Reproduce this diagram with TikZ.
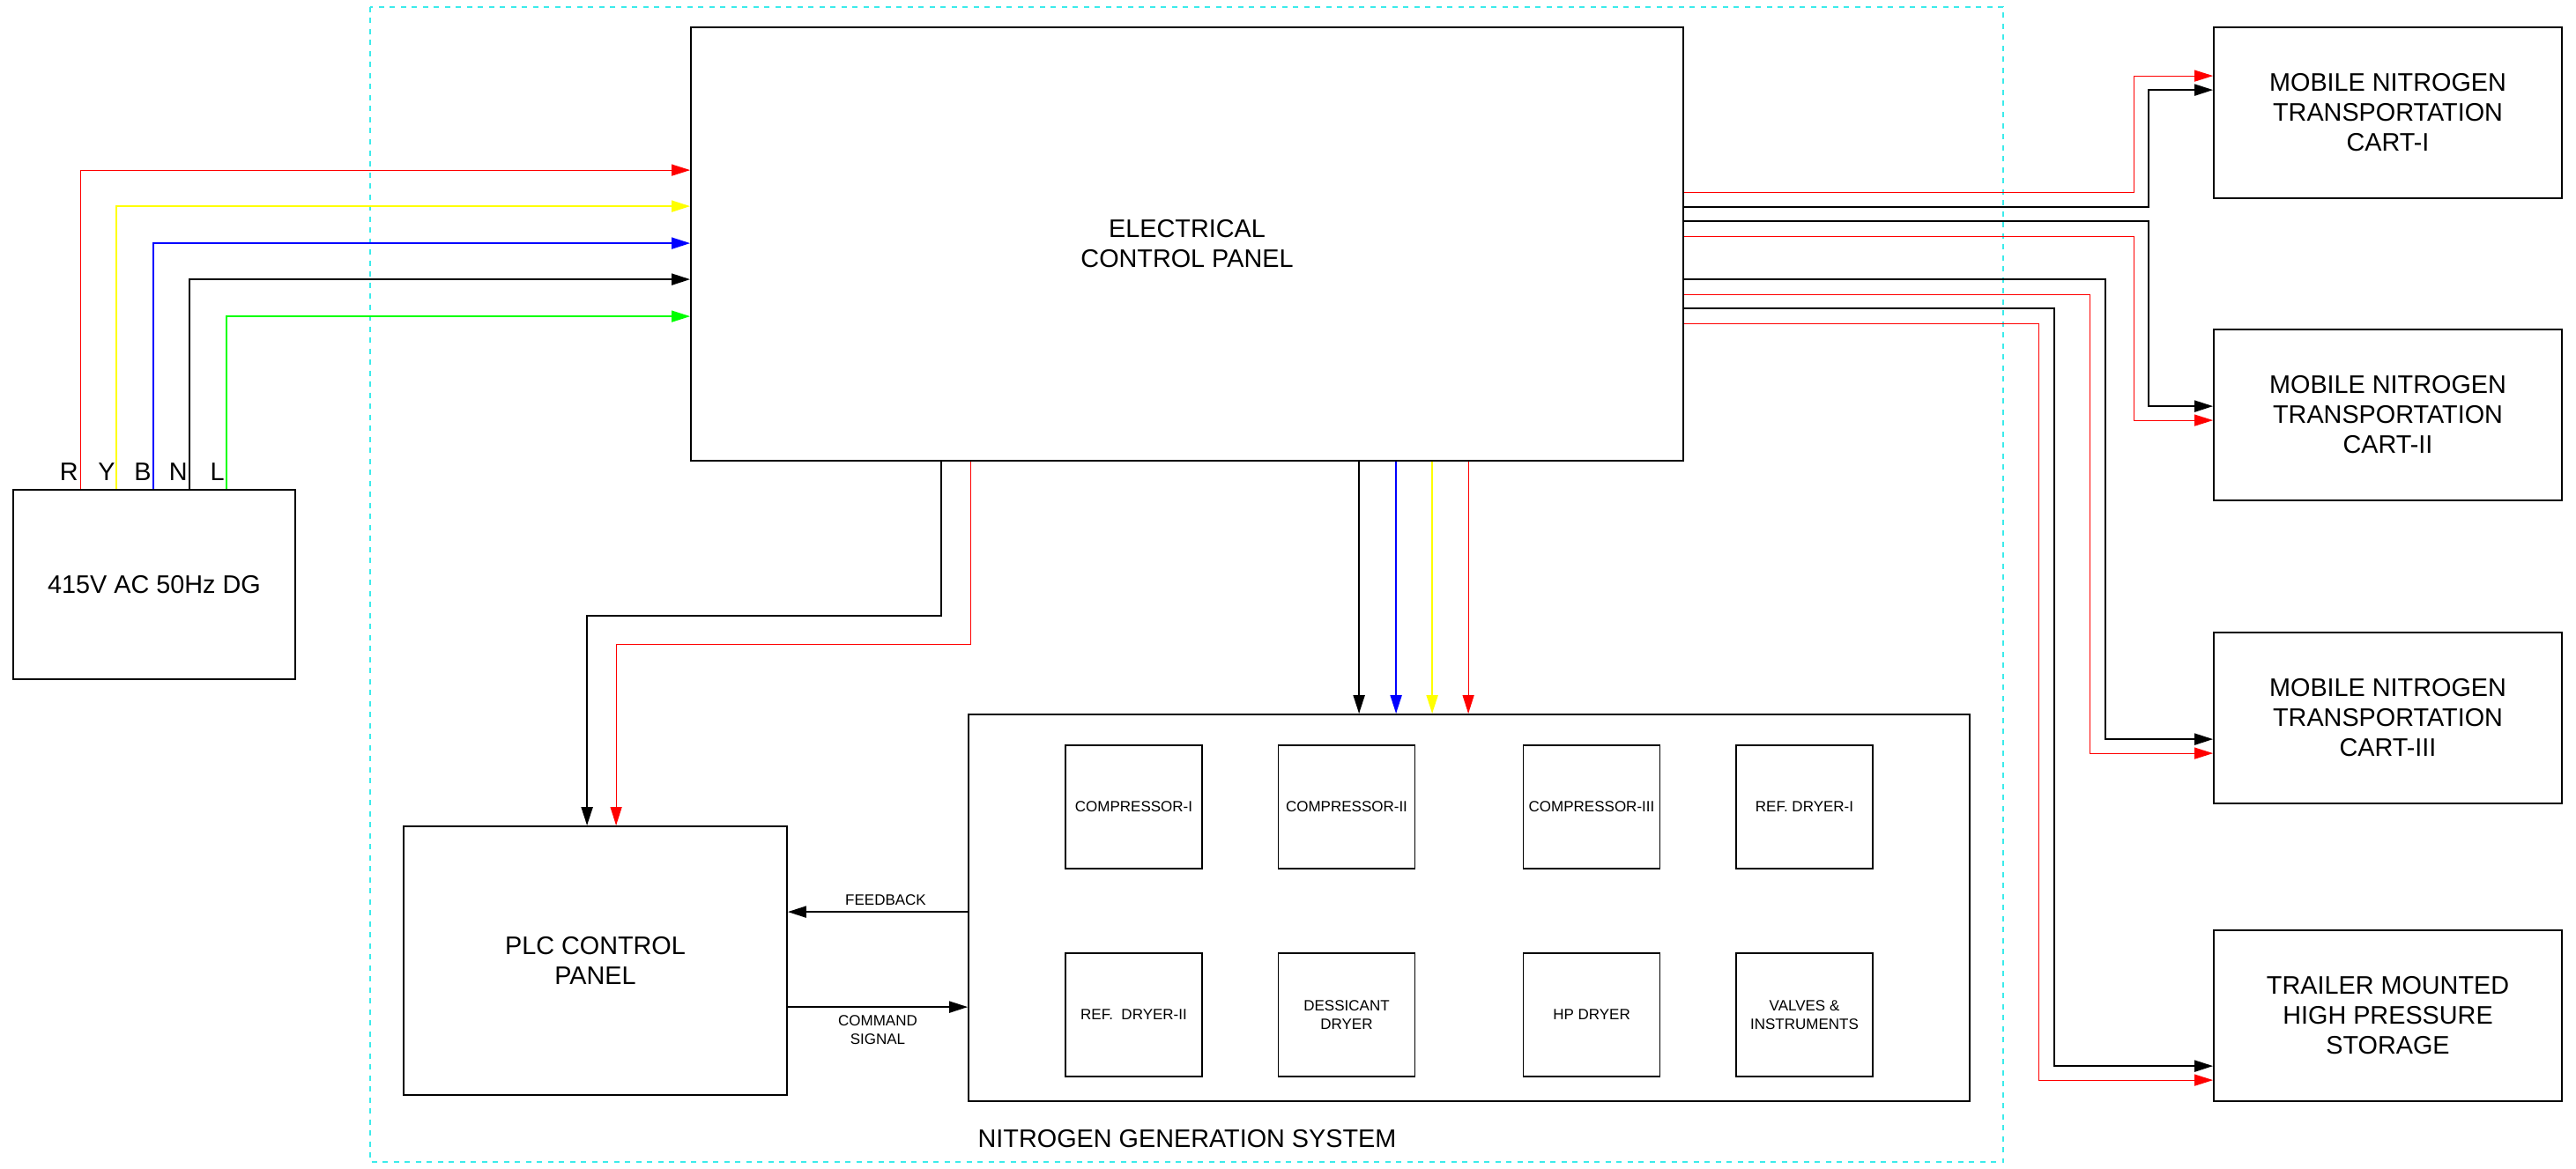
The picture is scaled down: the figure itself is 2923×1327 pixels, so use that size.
\documentclass[tikz,border=0pt]{standalone}
\usepackage{fontspec}
\setmainfont{Liberation Sans}
\usetikzlibrary{arrows.meta,calc}
\definecolor{wred}{RGB}{255,0,0}
\definecolor{wyel}{RGB}{255,255,0}
\definecolor{wblue}{RGB}{0,0,255}
\definecolor{wgreen}{RGB}{0,255,0}
\definecolor{framecyan}{RGB}{60,235,235}
\newcommand\fbig{\fontsize{14.4}{17}\selectfont}
\newcommand\fsmall{\fontsize{8.5}{10.5}\selectfont}
\begin{document}
\frenchspacing
\begin{tikzpicture}[x=0.5pt,y=-0.5pt,
  box/.style={draw=black,line width=0.9pt,inner sep=0pt,align=center,font=\fbig},
  cart/.style={box,minimum width=197.5pt,minimum height=97pt},
  sub/.style={draw=black,line width=0.9pt,inner sep=0pt,align=center,font=\fsmall,minimum width=77.5pt,minimum height=70pt},
  lbl/.style={inner sep=0pt,font=\fbig},
  slbl/.style={inner sep=0pt,font=\fsmall,align=center},
  arr/.style={-{Triangle[length=10.5pt,width=6.5pt]}},
  wk/.style={draw=black,line width=0.95pt,arr},
  wr/.style={draw=wred,line width=0.55pt,arr},
  wy/.style={draw=wyel,line width=0.9pt,arr},
  wb/.style={draw=wblue,line width=0.9pt,arr},
  wg/.style={draw=wgreen,line width=0.65pt,arr},
  frame/.style={draw=framecyan,line width=0.7pt,dash pattern=on 3pt off 3.25pt}
]
\useasboundingbox[fill=white] (0,0) rectangle (2923,1327);

% frame of the nitrogen generation system
\draw[frame] (420,8) rectangle (2273,1319);
\node[lbl] (ngslbl) at (1347,1293) {NITROGEN GENERATION SYSTEM};

% main boxes
\node[box,minimum width=160pt,minimum height=107.5pt] (dg) at (175,663.5) {415V AC 50Hz DG};
\node[box,minimum width=563pt,minimum height=246pt] (ecp) at (1347,277) {ELECTRICAL\\CONTROL PANEL};
\node[box,minimum width=217.5pt,minimum height=152.5pt] (plc) at (675.5,1090.5) {PLC CONTROL\\PANEL};
\node[box,minimum width=568pt,minimum height=219.5pt] (ngs) at (1667,1030.5) {};

\node[cart] (c1) at (2709.5,128) {MOBILE NITROGEN\\TRANSPORTATION\\CART-I};
\node[cart] (c2) at (2709.5,471) {MOBILE NITROGEN\\TRANSPORTATION\\CART-II};
\node[cart] (c3) at (2709.5,815) {MOBILE NITROGEN\\TRANSPORTATION\\CART-III};
\node[cart] (st) at (2709.5,1153) {TRAILER MOUNTED\\HIGH PRESSURE\\STORAGE};

% sub units
\node[sub] (comp1) at (1286.5,916) {COMPRESSOR-I};
\node[sub] (comp2) at (1528,916) {COMPRESSOR-II};
\node[sub] (comp3) at (1806,916) {COMPRESSOR-III};
\node[sub] (rd1) at (2047.5,916) {REF. DRYER-I};
\node[sub] (rd2) at (1286.5,1152) {REF.\ \ DRYER-II};
\node[sub] (dd) at (1528,1152) {DESSICANT\\DRYER};
\node[sub] (hp) at (1806,1152) {HP DRYER};
\node[sub] (vi) at (2047.5,1152) {VALVES \&\\INSTRUMENTS};

% phase labels
\node[lbl,anchor=base east] (lR) at (89,545) {R};
\node[lbl,anchor=base east] (lY) at (131,545) {Y};
\node[lbl,anchor=base east] (lB) at (172,545) {B};
\node[lbl,anchor=base east] (lN) at (213,545) {N};
\node[lbl,anchor=base east] (lL) at (255,545) {L};

% DG to ECP
\draw[wr] ($(dg.north west)+(77,0)$) |- ($(ecp.north west)+(0,163)$);
\draw[wy] ($(dg.north west)+(118,0)$) |- ($(ecp.north west)+(0,204)$);
\draw[wb] ($(dg.north west)+(160,0)$) |- ($(ecp.north west)+(0,246)$);
\draw[wk] ($(dg.north west)+(201,0)$) |- ($(ecp.north west)+(0,287)$);
\draw[wg] ($(dg.north west)+(243,0)$) |- ($(ecp.north west)+(0,329)$);

% ECP to carts
\draw[wr] ($(ecp.north east)+(0,188)$) -- ++(511,0) |- ($(c1.north west)+(0,56)$);
\draw[wk] ($(ecp.north east)+(0,205)$) -- ++(527,0) |- ($(c1.north west)+(0,72)$);
\draw[wk] ($(ecp.north east)+(0,221)$) -- ++(527,0) |- ($(c2.north west)+(0,88)$);
\draw[wr] ($(ecp.north east)+(0,238)$) -- ++(511,0) |- ($(c2.north west)+(0,104)$);
\draw[wk] ($(ecp.north east)+(0,287)$) -- ++(478,0) |- ($(c3.north west)+(0,122)$);
\draw[wr] ($(ecp.north east)+(0,304)$) -- ++(461,0) |- ($(c3.north west)+(0,138)$);
\draw[wk] ($(ecp.north east)+(0,320)$) -- ++(420,0) |- ($(st.north west)+(0,155)$);
\draw[wr] ($(ecp.north east)+(0,337)$) -- ++(403,0) |- ($(st.north west)+(0,171)$);

% ECP to PLC
\draw[wk] ($(ecp.south west)+(285,0)$) -- ++(0,175) -| ($(plc.north west)+(209,0)$);
\draw[wr] ($(ecp.south west)+(318,0)$) -- ++(0,208) -| ($(plc.north west)+(242,0)$);

% ECP to NGS
\draw[wk] ($(ecp.south west)+(759,0)$) -- ($(ngs.north west)+(444,0)$);
\draw[wb] ($(ecp.south west)+(801,0)$) -- ($(ngs.north west)+(486,0)$);
\draw[wy] ($(ecp.south west)+(842,0)$) -- ($(ngs.north west)+(527,0)$);
\draw[wr] ($(ecp.south west)+(883,0)$) -- ($(ngs.north west)+(568,0)$);

% PLC <-> NGS
\draw[wk] ($(ngs.north west)+(0,225)$) -- ($(plc.north east)+(0,98)$);
\draw[wk] ($(plc.north east)+(0,206)$) -- ($(ngs.north west)+(0,333)$);
\node[slbl] (fb) at (1005,1022) {FEEDBACK};
\node[slbl] (cmd) at (996,1169.5) {COMMAND\\SIGNAL};
\end{tikzpicture}
\end{document}
